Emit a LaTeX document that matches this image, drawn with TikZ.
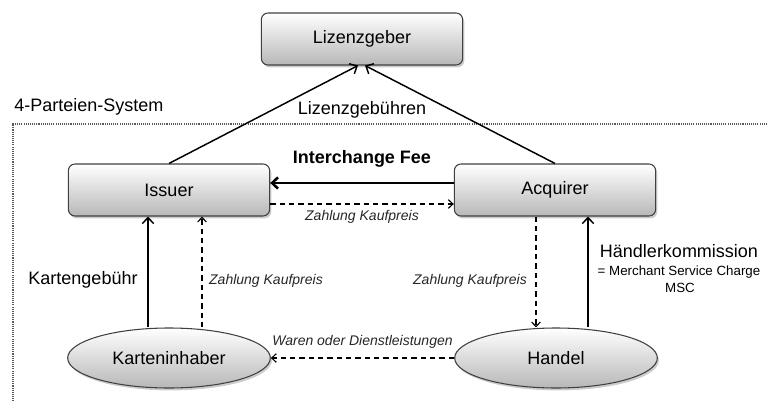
\documentclass[tikz,border=0pt]{standalone}
\usepackage{fontspec}
\setmainfont{Liberation Sans}
\usetikzlibrary{arrows.meta,shadows,shapes.geometric}

\tikzstyle{party} = [draw=black!75, line width=0.8pt, rounded corners=5pt,
    minimum width=151pt, minimum height=39pt, top color=white, bottom color=black!28,
    drop shadow={shadow xshift=1.2pt, shadow yshift=-1.8pt, opacity=0.4},
    font=\fontsize{13.5}{16}\selectfont]
\tikzstyle{client} = [party, ellipse, rounded corners=0pt, minimum width=152pt, minimum height=45pt]
\tikzstyle{flow} = [line width=1.1pt, -{Straight Barb[length=4.5pt,width=8.5pt]}]
\tikzstyle{pay} = [line width=0.85pt, dash pattern=on 4pt off 3pt, -{Straight Barb[length=3.5pt,width=6.5pt]}]
\tikzstyle{lbl} = [font=\fontsize{13.5}{16}\selectfont, inner sep=0pt]
\tikzstyle{note} = [font=\fontsize{10.5}{12}\selectfont\itshape, inner sep=0pt, text=black!85]

\begin{document}
\begin{tikzpicture}[x=0.75pt, y=-0.75pt]
\useasboundingbox (0,0) rectangle (768,403);

% frame of the system
\draw[black!65, line width=0.8pt, dash pattern=on 0.8pt off 0.8pt] (767,124) -- (13,124) -- (13,403);
\node[lbl, anchor=west] (system) at (14,107) {4-Parteien-System};

% parties
\node[party] (lizenz) at (362,39) {Lizenzgeber};
\node[party] (issuer) at (169,190) {Issuer};
\node[party] (acquirer) at (555,190) {Acquirer};
\node[client] (kinh) at (169,358) {Karteninhaber};
\node[client] (handel) at (556,358) {Handel};

\coordinate (kg) at ([xshift=-15.75pt]issuer.south);
\coordinate (kz) at ([xshift=24.75pt]issuer.south);
\coordinate (az) at ([xshift=-14.25pt]acquirer.south);
\coordinate (ak) at ([xshift=24.75pt]acquirer.south);

% fees to the licensor
\draw[flow] (issuer.north) -- ([xshift=-3pt]lizenz.south);
\draw[flow] (acquirer.north) -- ([xshift=2.25pt]lizenz.south);
\node[lbl] (lg) at (362,110) {Lizenzgebühren};

% between issuer and acquirer
\draw[flow, line width=1.9pt] ([yshift=5.25pt]acquirer.west) -- ([yshift=5.25pt]issuer.east)
    node[midway, yshift=18pt, font=\fontsize{13.5}{16}\selectfont\bfseries] {Interchange Fee};
\draw[pay] ([yshift=-10.5pt]issuer.east) -- ([yshift=-10.5pt]acquirer.west)
    node[note, midway, yshift=-9.5pt] {Zahlung Kaufpreis};

% card holder side
\draw[flow] (kg |- kinh.north) -- (kg);
\node[lbl] (kgl) at (83,280) {Kartengebühr};
\draw[pay] (kz |- kinh.north) -- (kz);
\node[note] (kzl) at (266,281) {Zahlung Kaufpreis};

% merchant side
\draw[pay] (az) -- (az |- handel.north);
\node[note] (azl) at (470,281) {Zahlung Kaufpreis};
\draw[flow] (ak |- handel.north) -- (ak);
\node[lbl] (hk) at (679,251) {Händlerkommission};
\node[font=\fontsize{10}{12}\selectfont, inner sep=0pt] (msc) at (679,272) {= Merchant Service Charge};
\node[font=\fontsize{10}{12}\selectfont, inner sep=0pt] (msc2) at (680,288) {MSC};

% goods
\draw[pay] (handel.west) -- (kinh.east)
    node[note, midway, yshift=12pt] {Waren oder Dienstleistungen};
\end{tikzpicture}
\end{document}
